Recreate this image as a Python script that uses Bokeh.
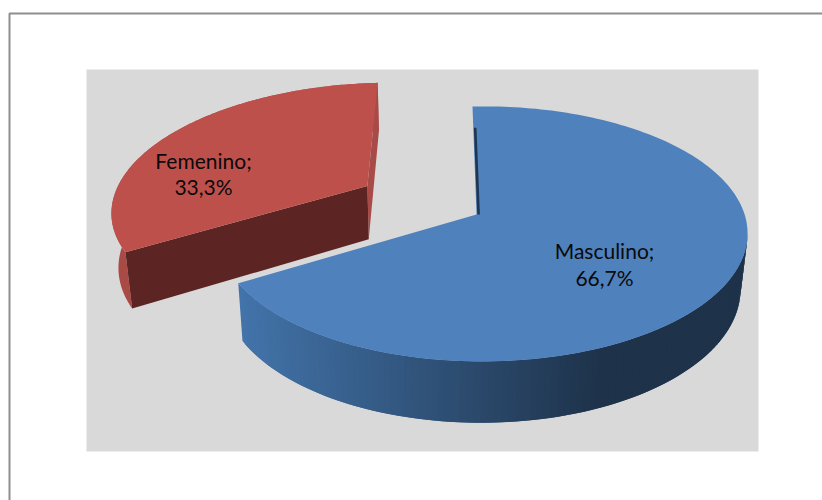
import numpy as np
from bokeh.embed import file_html
from bokeh.models import ColumnDataSource
from bokeh.plotting import figure
from bokeh.resources import INLINE
from bokeh.core.properties import value

# Chart content
categories = ["Masculino", "Femenino"]
shares = [66.7, 33.3]
share_labels = ["66,7%", "33,3%"]

FONT = "Lato"
TOP_COLORS = ["#4f81bd", "#be504c"]

# Calibration of the tilted view: unit-disc coordinates and where they land on the page
disc_pts = np.array([(0, 1), (0, 0), (-0.866, -0.5), (0.98, -0.2), (0.05, -1)], float)
page_pts = np.array([(472, 106), (476, 214), (238, 283), (747, 237), (497, 361)], float)


def fit_view(src, dst):
    rows = []
    for (u, v), (x, y) in zip(src, dst):
        rows.append([u, v, 1, 0, 0, 0, -u * x, -v * x, -x])
        rows.append([0, 0, 0, u, v, 1, -u * y, -v * y, -y])
    return np.linalg.svd(np.array(rows))[2][-1].reshape(3, 3)


VIEW = fit_view(disc_pts, page_pts)


def project(u, v):
    w = VIEW @ np.vstack([u, v, np.ones_like(u)])
    return w[0] / w[2], w[1] / w[2]


def drop(x, y):
    """Lower face of the extruded disc for points on the upper face."""
    return x + (430 - x) * 0.022, y + 45 + 0.045 * y


def mix(a, b, t):
    ca = [int(a[i:i + 2], 16) for i in (1, 3, 5)]
    cb = [int(b[i:i + 2], 16) for i in (1, 3, 5)]
    return "#%02x%02x%02x" % tuple(round(p + (q - p) * t) for p, q in zip(ca, cb))


def wedge(start, sweep, explode=0.0, radius=1.0):
    """Upper outline of a slice: apex and arc, pushed out along its bisector."""
    mid = np.radians(start + sweep / 2)
    du, dv = explode * np.sin(mid), explode * np.cos(mid)
    th = np.radians(np.linspace(start, start + sweep, 181))
    ax, ay = project(np.array([du]), np.array([dv]))
    ex, ey = project(radius * np.sin(th) + du, radius * np.cos(th) + dv)
    return ax, ay, ex, ey


p = figure(width=822, height=500, x_range=(0, 822), y_range=(500, 0),
           output_backend="svg", toolbar_location=None, min_border=0,
           outline_line_color=None, background_fill_color="white",
           border_fill_color="white")
p.axis.visible = False
p.grid.visible = False

# Chart frame and plot area
p.line([9, 9, 822], [500, 13, 13], line_color="#8e8e8e", line_width=2)
p.quad(left=[86], right=[758], top=[69], bottom=[451], fill_color="#d9d9d9", line_color=None)

total = sum(shares)
sweeps = [s / total * 360 for s in shares]

# Femenino: pulled out of the pie
ax, ay, ex, ey = wedge(sweeps[0], sweeps[1], explode=0.50, radius=1.035)
lx, ly = drop(ex, ey)
lax, lay = drop(ax, ay)
p.patch(np.r_[ex, lx[::-1]], np.r_[ey, ly[::-1]], fill_color="#a94a47", line_color=None)
p.patch([ex[-1], ax[0], lax[0], lx[-1]], [ey[-1], ay[0], lay[0], ly[-1]],
        fill_color="#a84a47", line_color=None)
p.patch([ex[0], ax[0], lax[0], lx[0]], [ey[0], ay[0], lay[0], ly[0]],
        fill_color="#5c2422", line_color=None)
p.patch(np.r_[ax, ex], np.r_[ay, ey], fill_color=TOP_COLORS[1], line_color=None)

# Masculino: front-facing rim shaded from left to right, then the upper face
ax, ay, ex, ey = wedge(0, sweeps[0])
lx, ly = drop(ex, ey)
first = int(np.argmax(ex))
idx = range(len(ex) - 1, first + 1, -1)
rim = ColumnDataSource(dict(
    xs=[[ex[i], ex[i - 2], lx[i - 2], lx[i]] for i in idx],
    ys=[[ey[i], ey[i - 2], ly[i - 2], ly[i]] for i in idx],
    c=[mix("#4273a9", "#1e324a", float(np.clip((ex[i] - 240) / 360, 0, 1))) for i in idx],
))
p.patches("xs", "ys", source=rim, fill_color="c", line_color=None)
p.patch(np.r_[ax, ex], np.r_[ay, ey], fill_color=TOP_COLORS[0], line_color=None)

# Thin glimpse of the inner wall along the first slice edge
wx, wy = project(np.array([0.008, 0.008]), np.array([0.78, 0.0]))
p.line(wx, wy, line_color="#1f3550", line_width=2.6)

# Data labels
label_x = [604, 203]
label_y = [[249.5, 277], [159.5, 186]]
for cat, lab, x, (y1, y2) in zip(categories, share_labels, label_x, label_y):
    p.text([x, x], [y1, y2], text=[f"{cat};", lab], text_align="center", text_baseline="middle",
           text_font=value(FONT), text_font_size="21px", text_color="#0a0a0a")

open("out.html", "w").write(file_html(p, INLINE))
